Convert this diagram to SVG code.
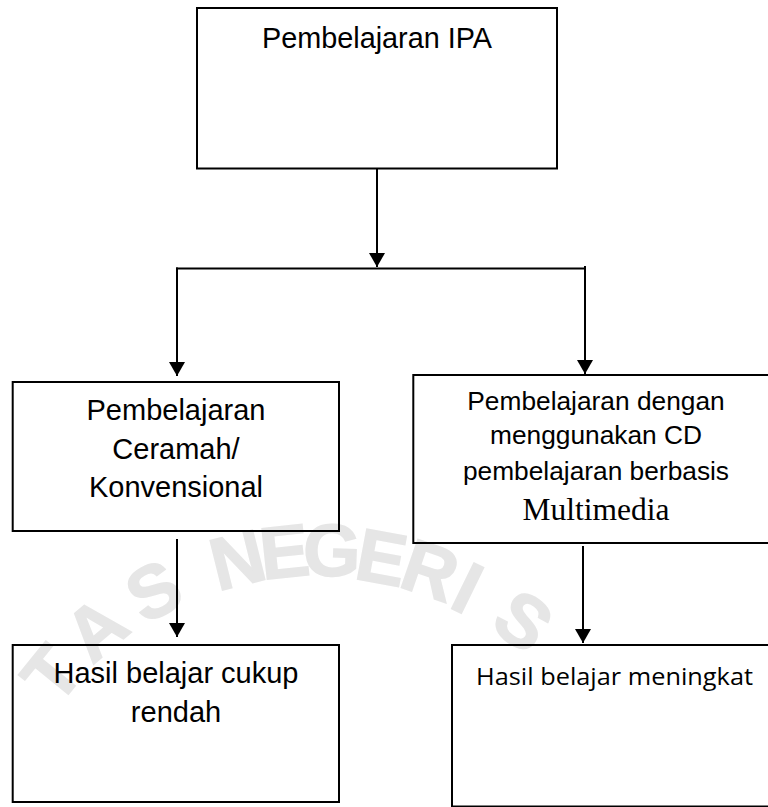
<svg xmlns="http://www.w3.org/2000/svg" width="768" height="807" viewBox="0 0 768 807">
  <defs>
    <marker id="arrow" markerUnits="userSpaceOnUse" markerWidth="16" markerHeight="16" refX="14" refY="8" orient="auto">
      <path d="M0,0 L14,8 L0,16 Z" fill="#000"/>
    </marker>
    <style>
      .box { fill: none; stroke: #000; stroke-width: 2; }
      .line { fill: none; stroke: #000; stroke-width: 2; }
      .arrow { fill: none; stroke: #000; stroke-width: 2; marker-end: url(#arrow); }
      .sans { font-family: "Liberation Sans", Arial, sans-serif; fill: #000; text-anchor: middle; }
      .serif { font-family: "Liberation Serif", "Times New Roman", serif; fill: #000; text-anchor: middle; }
      .calib { font-family: "Open Sans", "Noto Sans", sans-serif; fill: #000; }
      .wm { font-family: "Liberation Sans", Arial, sans-serif; font-weight: bold; font-size: 74px; fill: #e6e6e6; stroke: #e6e6e6; stroke-width: 1.5; text-anchor: middle; dominant-baseline: central; }
    </style>
  </defs>

  <rect width="768" height="807" fill="#fff"/>

  <!-- faint seal lettering in the background, set on a circle around (320,891) -->
  <g id="watermark">
    <text class="wm" transform="translate(320,891) rotate(-141) translate(345,0) rotate(90)">T</text>
    <text class="wm" transform="translate(320,891) rotate(-130.5) translate(345,0) rotate(90)">A</text>
    <text class="wm" transform="translate(320,891) rotate(-119) translate(343,0) rotate(90)">S</text>
    <text class="wm" transform="translate(320,891) rotate(-104) translate(341,0) rotate(90)">N</text>
    <text class="wm" transform="translate(320,891) rotate(-96) translate(341,0) rotate(90)">E</text>
    <text class="wm" transform="translate(320,891) rotate(-88) translate(341,0) rotate(90)">G</text>
    <text class="wm" transform="translate(320,891) rotate(-79.5) translate(339,0) rotate(90)">E</text>
    <text class="wm" transform="translate(320,891) rotate(-71) translate(339,0) rotate(90)">R</text>
    <text class="wm" transform="translate(320,891) rotate(-64) translate(337,0) rotate(90)">I</text>
    <text class="wm" transform="translate(320,891) rotate(-53) translate(338,0) rotate(90)">S</text>
  </g>

  <!-- connectors -->
  <g id="connectors">
    <line class="arrow" x1="377" y1="169" x2="377" y2="267"/>
    <line class="line" x1="176" y1="268.5" x2="586" y2="268.5"/>
    <line class="arrow" x1="177" y1="267.5" x2="177" y2="376"/>
    <line class="arrow" x1="585" y1="266" x2="585" y2="374"/>
    <line class="arrow" x1="177" y1="539" x2="177" y2="637"/>
    <line class="arrow" x1="583" y1="546" x2="583" y2="643"/>
  </g>

  <!-- nodes -->
  <g id="node-ipa">
    <rect class="box" x="197" y="8" width="360" height="160.5"/>
    <text class="sans" x="377" y="48" font-size="28.8">Pembelajaran IPA</text>
  </g>

  <g id="node-ceramah">
    <rect class="box" x="12.7" y="382" width="326.3" height="149"/>
    <text class="sans" x="176" y="420" font-size="29">Pembelajaran</text>
    <text class="sans" x="176" y="458.5" font-size="29">Ceramah/</text>
    <text class="sans" x="176" y="497" font-size="29">Konvensional</text>
  </g>

  <g id="node-multimedia">
    <rect class="box" x="413.3" y="375" width="380" height="168"/>
    <text class="sans" x="596" y="410" font-size="26.3">Pembelajaran dengan</text>
    <text class="sans" x="596" y="444" font-size="26.3">menggunakan CD</text>
    <text class="sans" x="596" y="480" font-size="26.3">pembelajaran berbasis</text>
    <text class="serif" x="596" y="520" font-size="31.5">Multimedia</text>
  </g>

  <g id="node-rendah">
    <rect class="box" x="12.7" y="645" width="326.3" height="157"/>
    <text class="sans" x="176" y="683" font-size="29">Hasil belajar cukup</text>
    <text class="sans" x="176" y="722" font-size="29">rendah</text>
  </g>

  <g id="node-meningkat">
    <rect class="box" x="452" y="645" width="340" height="161.5"/>
    <text class="calib" x="476" y="685" font-size="23.5" textLength="277" lengthAdjust="spacingAndGlyphs">Hasil belajar meningkat</text>
  </g>
</svg>
